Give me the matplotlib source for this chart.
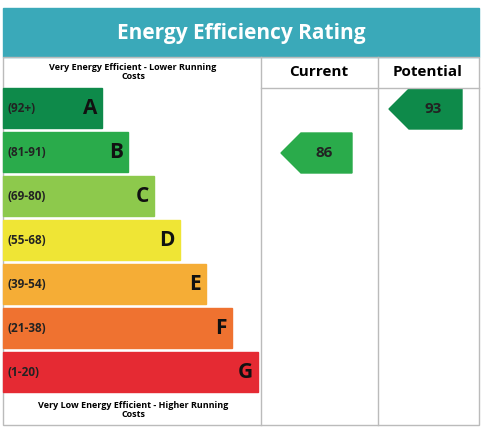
import matplotlib.pyplot as plt
from matplotlib.patches import Rectangle, Polygon

letters = ["A", "B", "C", "D", "E", "F", "G"]
ranges = ["(92+)", "(81-91)", "(69-80)", "(55-68)", "(39-54)", "(21-38)", "(1-20)"]
lows = [92, 81, 69, 55, 39, 21, 1]
colors = ["#0e8a4a", "#2aab4b", "#8dc94c", "#efe535", "#f5ad36", "#ef7230", "#e52a33"]
text_col = ["#222222"] * 7
current = 86
potential = 93

plt.rcParams["font.family"] = ["Open Sans", "DejaVu Sans"]
fig = plt.figure(figsize=(4.82, 4.32), dpi=100)
ax = fig.add_axes([0, 0, 1, 1])
ax.set_xlim(0, 482)
ax.set_ylim(432, 0)
ax.axis("off")

edge = "#bbbbbb"
# title bar
ax.add_patch(Rectangle((3, 8), 476, 49, color="#3aa9b9"))
ax.text(241, 33, "Energy Efficiency Rating", color="white", fontsize=15,
        fontweight="bold", ha="center", va="center")
# frame and column lines
ax.add_patch(Rectangle((3, 57), 476, 368, fill=False, ec=edge, lw=1))
for x in (261, 378):
    ax.plot([x, x], [57, 425], color=edge, lw=1)
ax.plot([261, 479], [88, 88], color=edge, lw=1)
ax.text(319, 72, "Current", fontsize=11, fontweight="bold", ha="center", va="center")
ax.text(428, 72, "Potential", fontsize=11, fontweight="bold", ha="center", va="center")
ax.text(133, 72, "Very Energy Efficient - Lower Running\nCosts", fontsize=6.5,
        fontweight="bold", ha="center", va="center", linespacing=1.1)
ax.text(133, 410, "Very Low Energy Efficient - Higher Running\nCosts", fontsize=6.5,
        fontweight="bold", ha="center", va="center", linespacing=1.1)

top0, step, h = 88, 44, 40
for i, (l, r, c) in enumerate(zip(letters, ranges, colors)):
    y = top0 + i * step
    w = 99 + i * 26
    ax.add_patch(Rectangle((3, y), w, h, color=c))
    ax.text(8, y + h / 2, r, fontsize=8.5, fontweight="bold", ha="left", va="center", color="#222")
    ax.text(3 + w - 5, y + h / 2 + 1, l, fontsize=15, fontweight="bold", ha="right", va="center", color="#111")


def band(v):
    for i, lo in enumerate(lows):
        if v >= lo:
            return i
    return 6


def arrow(v, x0, x1):
    i = band(v)
    y = top0 + i * step + 1
    pts = [(x0, y + h / 2), (x0 + 20, y), (x1, y), (x1, y + h), (x0 + 20, y + h)]
    ax.add_patch(Polygon(pts, closed=True, color=colors[i]))
    ax.text((x0 + 20 + x1) / 2 - 2, y + h / 2, str(v), fontsize=11, fontweight="bold",
            ha="center", va="center", color="#222")


arrow(current, 281, 352)
arrow(potential, 389, 462)

fig.savefig("out.png", dpi=100)
